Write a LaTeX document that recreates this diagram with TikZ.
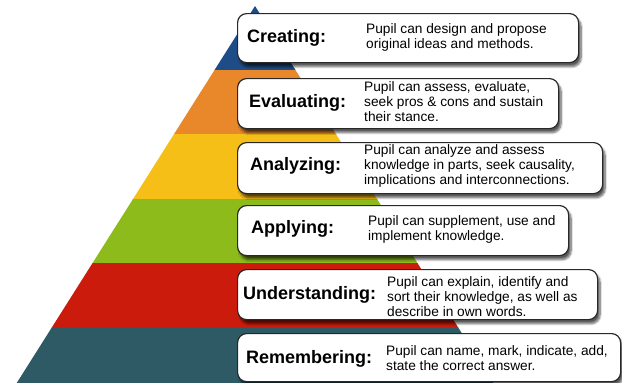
\documentclass[tikz,border=0pt]{standalone}
\usepackage{fontspec}
\setmainfont{Liberation Sans}
\usetikzlibrary{shadows.blur}

\definecolor{lvlcreate}{RGB}{30,76,134}
\definecolor{lvleval}{RGB}{232,136,42}
\definecolor{lvlanal}{RGB}{245,191,23}
\definecolor{lvlapply}{RGB}{141,187,28}
\definecolor{lvlunder}{RGB}{203,27,12}
\definecolor{lvlremem}{RGB}{46,90,102}
\definecolor{boxline}{RGB}{40,40,40}

\tikzset{
  levelbox/.style={draw=boxline, line width=1.2pt, fill=white, rounded corners=9pt,
    anchor=north west, inner sep=0pt,
    blur shadow={shadow xshift=2.5pt, shadow yshift=-4pt, shadow blur steps=8, shadow opacity=65}},
  levelname/.style={anchor=west, inner sep=0pt, font=\fontsize{18}{20}\selectfont\bfseries},
  leveltext/.style={anchor=west, inner sep=0pt, align=left, font=\fontsize{13.7}{15}\selectfont}
}

% left and right flank of the pyramid at height y
\newcommand{\pyrL}[1]{{255-0.632*(#1-6)}}
\newcommand{\pyrR}[1]{{255+0.632*(#1-6)}}
\newcommand{\pyrband}[3]{%
  \fill[#1] (\pyrL{#2},#2) -- (\pyrR{#2},#2) -- (\pyrR{#3},#3) -- (\pyrL{#3},#3) -- cycle;}

\begin{document}
\begin{tikzpicture}[x=1pt,y=-1pt]
\useasboundingbox (0,0) rectangle (622,383);
\clip (0,0) rectangle (622,383);

% pyramid bands
\fill[lvlcreate] (255,6) -- (\pyrR{70.5},70.5) -- (\pyrL{70.5},70.5) -- cycle;
\pyrband{lvleval}{70}{134.5}
\pyrband{lvlanal}{134}{199.5}
\pyrband{lvlapply}{199}{263.5}
\pyrband{lvlunder}{263}{327.5}
\pyrband{lvlremem}{327}{400}

% level boxes
\node[levelbox, minimum width=341pt, minimum height=49pt] (b1) at (237,13) {};
\node[levelbox, minimum width=321pt, minimum height=50pt] (b2) at (237,78) {};
\node[levelbox, minimum width=365pt, minimum height=51pt] (b3) at (237,142) {};
\node[levelbox, minimum width=331pt, minimum height=50pt] (b4) at (237,205) {};
\node[levelbox, minimum width=360pt, minimum height=50pt] (b5) at (237,269) {};
\node[levelbox, minimum width=383pt, minimum height=48pt] (b6) at (237,333) {};

% level names
\node[levelname] (n1) at (247,38) {Creating:};
\node[levelname] (n2) at (249,103) {Evaluating:};
\node[levelname] (n3) at (250,166) {Analyzing:};
\node[levelname] (n4) at (251,229) {Applying:};
\node[levelname] (n5) at (243,295) {Understanding:};
\node[levelname] (n6) at (246,359) {Remembering:};

% descriptions
\node[leveltext] (t1) at (366,37) {Pupil can design and propose\\original ideas and methods.};
\node[leveltext] (t2) at (364,102) {Pupil can assess, evaluate,\\seek pros \& cons and sustain\\their stance.};
\node[leveltext] (t3) at (364,166) {Pupil can analyze and assess\\knowledge in parts, seek causality,\\implications and interconnections.};
\node[leveltext] (t4) at (368,229) {Pupil can supplement, use and\\implement knowledge.};
\node[leveltext] (t5) at (387,297) {Pupil can explain, identify and\\sort their knowledge, as well as\\describe in own words.};
\node[leveltext] (t6) at (386,358) {Pupil can name, mark, indicate, add,\\state the correct answer.};
\end{tikzpicture}
\end{document}
